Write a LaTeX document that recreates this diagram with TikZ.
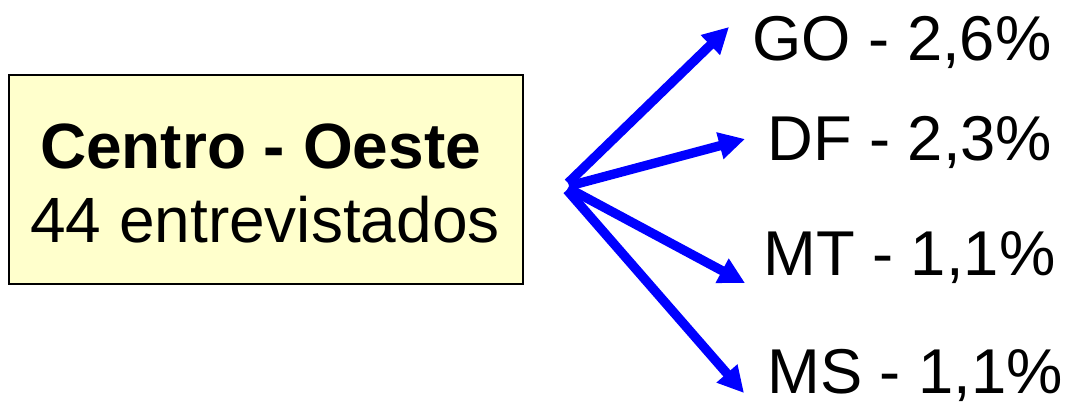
\documentclass[tikz,border=0pt]{standalone}
\usepackage{fontspec}
\setmainfont{Liberation Sans}
\usetikzlibrary{arrows.meta}
\definecolor{boxfill}{RGB}{255,255,204}
\definecolor{arrblue}{RGB}{0,0,255}
\tikzset{
  lbl/.style={anchor=base west, inner sep=0pt, font=\fontsize{47.5}{56}\selectfont},
  boxtxt/.style={anchor=base, inner sep=0pt, font=\fontsize{48}{56}\selectfont},
  arr/.style={draw=arrblue, line width=7pt, -{Triangle[length=19.5pt,width=19.5pt]}},
}
\begin{document}
\begin{tikzpicture}[x=0.75pt,y=-0.75pt]
\useasboundingbox (0,0) rectangle (1068,401);
\node[draw=black, line width=1.8pt, fill=boxfill, minimum width=385.5pt, minimum height=156.75pt, inner sep=0pt, anchor=north west] (box) at (8,74) {};
\node[boxtxt, font=\fontsize{48}{56}\selectfont\bfseries] (t1) at (260.5,168) {Centro - Oeste};
\node[boxtxt] (t2) at (265,242) {44 entrevistados};
\node[lbl] (go) at (752,60) {GO - 2,6\%};
\node[lbl] (df) at (767,160) {DF - 2,3\%};
\node[lbl] (mt) at (763,275) {MT - 1,1\%};
\node[lbl] (ms) at (767,393) {MS - 1,1\%};
\coordinate (o1) at (568,183);
\coordinate (o2) at (569,186);
\coordinate (o3) at (568,188);
\coordinate (o4) at (567,190);
\coordinate (pgo) at (729,27);
\coordinate (pdf) at (745,139);
\coordinate (pmt) at (745,283);
\coordinate (pms) at (744,393);
\draw[arr] (o1) -- (pgo);
\draw[arr] (o2) -- (pdf);
\draw[arr] (o3) -- (pmt);
\draw[arr] (o4) -- (pms);
\end{tikzpicture}
\end{document}
